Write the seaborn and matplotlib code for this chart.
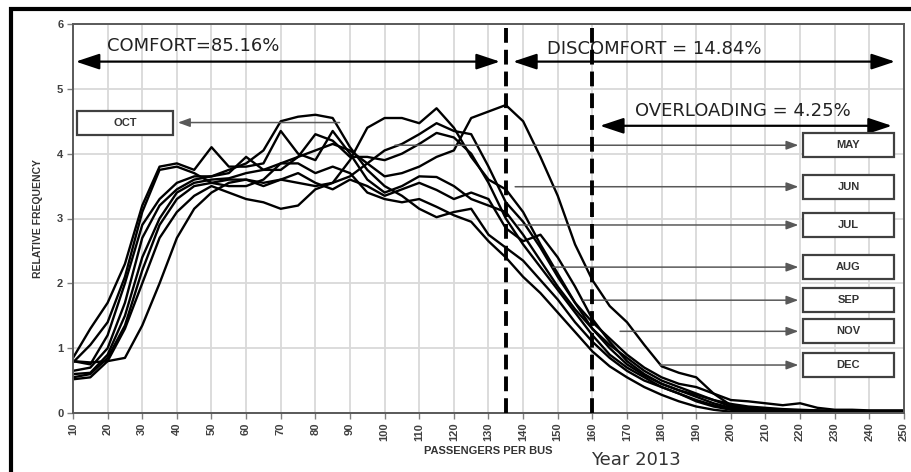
import matplotlib
matplotlib.use("Agg")
import matplotlib.pyplot as plt
from matplotlib.patches import Rectangle
import numpy as np
import pandas as pd
import seaborn as sns

# ---------------- data ----------------
passengers = list(range(10, 251, 5))
months = ["MAY", "JUN", "JUL", "AUG", "SEP", "OCT", "NOV", "DEC"]

may = [0.60, 0.62, 0.90, 1.50, 2.40, 3.00, 3.40, 3.55, 3.60, 3.62,
       3.70, 3.75, 3.85, 3.95, 4.05, 4.15, 4.05, 3.85, 3.65, 3.70,
       3.80, 3.95, 4.05, 4.55, 4.65, 4.75, 4.50, 3.95, 3.35, 2.60,
       2.05, 1.65, 1.40, 1.05, 0.72, 0.62, 0.55, 0.30, 0.12, 0.08,
       0.06, 0.05, 0.04, 0.04, 0.03, 0.03, 0.03, 0.03, 0.03]
jun = [0.55, 0.60, 0.85, 1.35, 2.20, 2.90, 3.30, 3.50, 3.55, 3.60,
       3.60, 3.55, 3.60, 3.55, 3.50, 3.55, 3.90, 4.40, 4.55, 4.55,
       4.47, 4.70, 4.40, 3.95, 3.60, 3.45, 3.10, 2.60, 2.15, 1.70,
       1.30, 1.00, 0.75, 0.58, 0.45, 0.35, 0.25, 0.15, 0.08, 0.05,
       0.04, 0.03, 0.03, 0.02, 0.02, 0.02, 0.02, 0.02, 0.02]
jul = [0.80, 0.75, 1.20, 2.00, 2.90, 3.30, 3.55, 3.65, 3.65, 3.75,
       3.85, 4.05, 4.50, 4.57, 4.60, 4.55, 4.10, 3.75, 3.50, 3.35,
       3.15, 3.02, 3.10, 3.15, 2.75, 2.55, 2.35, 2.05, 1.75, 1.40,
       1.10, 0.85, 0.65, 0.50, 0.40, 0.30, 0.20, 0.12, 0.06, 0.04,
       0.03, 0.03, 0.02, 0.02, 0.02, 0.02, 0.02, 0.02, 0.02]
aug = [0.85, 1.30, 1.70, 2.30, 3.20, 3.80, 3.85, 3.75, 4.10, 3.80,
       3.80, 3.85, 4.35, 4.00, 3.90, 4.35, 4.00, 3.60, 3.40, 3.50,
       3.65, 3.64, 3.50, 3.30, 3.20, 3.10, 2.75, 2.35, 1.95, 1.60,
       1.30, 1.05, 0.85, 0.65, 0.50, 0.40, 0.30, 0.20, 0.10, 0.06,
       0.05, 0.04, 0.03, 0.03, 0.03, 0.02, 0.02, 0.02, 0.02]
sep = [0.52, 0.55, 0.80, 1.30, 2.00, 2.70, 3.10, 3.35, 3.50, 3.40,
       3.30, 3.25, 3.15, 3.20, 3.45, 3.55, 3.65, 3.85, 4.05, 4.15,
       4.30, 4.47, 4.35, 4.30, 3.80, 3.25, 2.95, 2.55, 2.10, 1.70,
       1.40, 1.15, 0.90, 0.70, 0.55, 0.45, 0.40, 0.30, 0.20, 0.18,
       0.15, 0.12, 0.15, 0.08, 0.05, 0.05, 0.04, 0.04, 0.04]
oct_ = [0.65, 0.70, 1.00, 1.70, 2.70, 3.20, 3.45, 3.60, 3.65, 3.70,
        3.95, 3.75, 3.75, 3.95, 4.30, 4.20, 3.95, 3.95, 3.90, 4.00,
        4.15, 4.32, 4.25, 4.00, 3.55, 3.00, 2.60, 2.25, 1.90, 1.55,
        1.20, 0.90, 0.70, 0.55, 0.40, 0.30, 0.18, 0.10, 0.05, 0.03,
        0.02, 0.02, 0.02, 0.02, 0.02, 0.02, 0.02, 0.02, 0.02]
nov = [0.78, 1.05, 1.40, 2.10, 3.10, 3.75, 3.80, 3.70, 3.55, 3.50,
       3.50, 3.60, 3.85, 3.85, 3.70, 3.80, 3.70, 3.40, 3.30, 3.25,
       3.30, 3.18, 3.05, 2.95, 2.65, 2.40, 2.10, 1.85, 1.55, 1.25,
       0.95, 0.72, 0.55, 0.40, 0.28, 0.18, 0.10, 0.05, 0.02, 0.01,
       0.01, 0.01, 0.01, 0.01, 0.01, 0.01, 0.01, 0.01, 0.01]
dec = [0.80, 0.78, 0.80, 0.85, 1.35, 2.00, 2.70, 3.15, 3.40, 3.55,
       3.60, 3.50, 3.60, 3.70, 3.55, 3.45, 3.60, 3.50, 3.35, 3.45,
       3.55, 3.44, 3.30, 3.40, 3.30, 2.85, 2.65, 2.75, 2.40, 1.95,
       1.45, 1.10, 0.80, 0.60, 0.45, 0.35, 0.28, 0.20, 0.14, 0.10,
       0.08, 0.06, 0.05, 0.04, 0.03, 0.03, 0.03, 0.03, 0.03]

x_ticks = list(range(10, 251, 10))
y_ticks = [0, 1, 2, 3, 4, 5, 6]
threshold_lines = [135, 160]

# annotation texts
comfort_text = "COMFORT=85.16%"
discomfort_text = "DISCOMFORT = 14.84%"
overload_text = "OVERLOADING = 4.25%"

# ---------------- dataframe ----------------
series = [may, jun, jul, aug, sep, oct_, nov, dec]
df = pd.concat(
    [pd.DataFrame({"passengers": passengers, "freq": vals, "month": m})
     for m, vals in zip(months, series)],
    ignore_index=True,
)

# ---------------- figure ----------------
sns.set_theme(style="whitegrid")
plt.rcParams["font.family"] = ["DejaVu Sans"]

W, H = 912, 472
fig = plt.figure(figsize=(W / 100, H / 100), dpi=100)
fig.patch.set_facecolor("white")
ax = fig.add_axes([73 / W, 59 / H, 831 / W, 389 / H])
ax.set_facecolor("white")

sns.lineplot(data=df, x="passengers", y="freq", hue="month",
             palette=["black"] * len(months), legend=False, ax=ax,
             linewidth=1.7, sort=True)

ax.set_xlim(10, 250)
ax.set_ylim(0, 6)
ax.set_xticks(x_ticks)
ax.set_yticks(y_ticks)
ax.set_xticklabels([str(v) for v in x_ticks], rotation=90)
ax.set_xlabel("")
ax.set_ylabel("")
ax.grid(True, color="#d9d9d9", linewidth=1.3)
ax.set_axisbelow(True)
for s in ax.spines.values():
    s.set_color("#595959")
    s.set_linewidth(1.4)
    s.set_visible(True)
ax.tick_params(axis="both", length=4, width=1, color="#808080",
               labelcolor="#404040", pad=3, bottom=True, left=True)
for lab in ax.get_xticklabels() + ax.get_yticklabels():
    lab.set_fontweight("bold")
    lab.set_fontsize(8)
    lab.set_family(["Liberation Sans", "DejaVu Sans"])

# threshold dashed lines
for xv in threshold_lines:
    ax.axvline(xv, color="black", linewidth=2.8, linestyle=(0, (3.8, 1.8)), zorder=5)

# zone arrows
arrow_kw = dict(arrowstyle="<|-|>,head_length=0.9,head_width=0.3",
                color="black", lw=1.6, mutation_scale=16, shrinkA=0, shrinkB=0)
ax.annotate("", xy=(10.8, 5.42), xytext=(133.3, 5.42), arrowprops=arrow_kw, zorder=6)
ax.annotate("", xy=(137.1, 5.42), xytext=(247.4, 5.42), arrowprops=arrow_kw, zorder=6)
ax.annotate("", xy=(162.2, 4.43), xytext=(246.5, 4.43), arrowprops=arrow_kw, zorder=6)
ax.text(19.8, 5.66, comfort_text, fontsize=13, color="#222222", va="center", ha="left")
ax.text(146.9, 5.61, discomfort_text, fontsize=13, color="#222222", va="center", ha="left")
ax.text(172.3, 4.66, overload_text, fontsize=13, color="#222222", va="center", ha="left")

# month label boxes (label, box x0, box x1, box y center, arrow start x, arrow end x)
label_boxes = [
    ("MAY", 220.8, 247.1, 4.13, 103.0, 219.5),
    ("JUN", 220.8, 247.1, 3.49, 137.7, 219.5),
    ("JUL", 220.8, 247.1, 2.90, 138.5, 219.5),
    ("AUG", 220.8, 247.1, 2.25, 148.6, 219.5),
    ("SEP", 220.8, 247.1, 1.74, 157.3, 219.5),
    ("NOV", 220.8, 247.1, 1.26, 168.0, 219.5),
    ("DEC", 220.8, 247.1, 0.74, 179.5, 219.5),
    ("OCT", 11.2, 38.9, 4.48, 87.0, 40.3),
]
box_h = 0.37
for lab, x0, x1, yc, xs, xe in label_boxes:
    ax.add_patch(Rectangle((x0, yc - box_h / 2), x1 - x0, box_h, facecolor="white",
                           edgecolor="#404040", linewidth=1.6, zorder=7))
    ax.text((x0 + x1) / 2, yc, lab, fontsize=8, fontweight="bold", color="#333333",
            ha="center", va="center", zorder=8,
            family=["Liberation Sans", "DejaVu Sans"])
    ax.annotate("", xy=(xe, yc), xytext=(xs, yc),
                arrowprops=dict(arrowstyle="-|>,head_length=0.6,head_width=0.22",
                                color="#595959", lw=1.1, mutation_scale=12,
                                shrinkA=0, shrinkB=0), zorder=4)

# axis titles
fig.text(488 / W, 1 - 451 / H, "PASSENGERS PER BUS", fontsize=8, fontweight="bold",
         color="#333333", ha="center", va="center",
         family=["Liberation Sans", "DejaVu Sans"])
fig.text(38 / W, 1 - 219 / H, "RELATIVE FREQUENCY", fontsize=7.5, fontweight="bold",
         color="#333333", ha="center", va="center", rotation=90,
         family=["Liberation Sans Narrow", "Liberation Sans", "DejaVu Sans"])
fig.text(636 / W, 1 - 460 / H, "Year 2013", fontsize=13, color="#333333",
         ha="center", va="center")

# outer black frame (left and top edges visible)
fig.add_artist(Rectangle((11.5 / W, -0.5), 2.0, 0.98 + 0.5, transform=fig.transFigure,
                         fill=False, edgecolor="black", linewidth=3.0))

fig.savefig("out.png", dpi=100, facecolor="white")
